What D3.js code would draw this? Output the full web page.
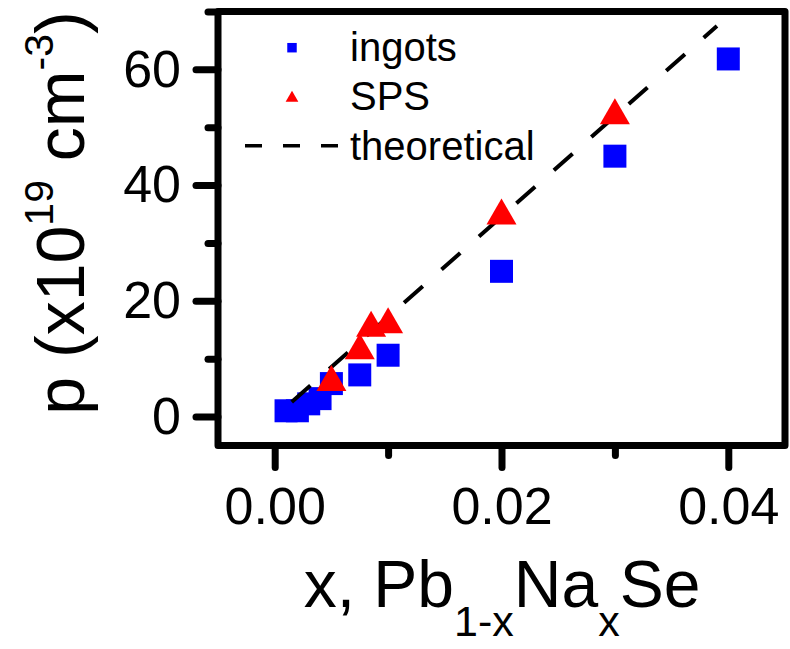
<!DOCTYPE html>
<html>
<head>
<meta charset="utf-8">
<script src="https://cdn.jsdelivr.net/npm/d3@7"></script>
<style>
  body { margin: 0; background: #fff; }
  text { font-family: "Liberation Sans", Arial, sans-serif; fill: #000; }
</style>
</head>
<body>
<div id="chart"></div>
<script>
// Data
const ingotX = [0.001, 0.002, 0.003, 0.004, 0.005, 0.0075, 0.01, 0.02, 0.03, 0.04];
const ingotP = [1.0, 1.0, 2.2, 3.1, 5.7, 7.2, 10.6, 25.1, 45.0, 61.8];
const spsX = [0.005, 0.0075, 0.0085, 0.01, 0.02, 0.03];
const spsP = [5.9, 11.4, 15.3, 15.9, 34.7, 52.0];
const theoX = [0.0015, 0.039];
const theoP = [2.5, 67.5];
const xMajor = [0, 0.02, 0.04];
const xMinor = [0.01, 0.03];
const yMajor = [0, 20, 40, 60];
const yMinor = [10, 30, 50, 70];
const legendLabels = ['ingots', 'SPS', 'theoretical'];

const width = 790, height = 649;
const plotLeft = 218, plotRight = 785, plotTop = 11.5, plotBottom = 445.5;

const svg = d3.select('#chart')
  .append('svg')
  .attr('width', width)
  .attr('height', height);

const x = d3.scaleLinear().domain([-0.005, 0.045]).range([plotLeft, plotRight]);
const y = d3.scaleLinear().domain([-5, 70]).range([plotBottom, plotTop]);

// points
const ingots = ingotX.map((v, i) => ({ x: v, p: ingotP[i] }));
const sps = spsX.map((v, i) => ({ x: v, p: spsP[i] }));
const theo = theoX.map((v, i) => ({ x: v, p: theoP[i] }));

svg.append('g')
  .selectAll('path')
  .data(ingots)
  .join('path')
  .attr('transform', d => `translate(${x(d.x)},${y(d.p)})`)
  .attr('d', d3.symbol(d3.symbolSquare, 529))
  .attr('fill', '#0000ff');

svg.append('path')
  .datum(theo)
  .attr('fill', 'none')
  .attr('stroke', '#000')
  .attr('stroke-width', 4)
  .attr('stroke-dasharray', '25,25')
  .attr('d', d3.line().x(d => x(d.x)).y(d => y(d.p)));

svg.append('g')
  .selectAll('path')
  .data(sps)
  .join('path')
  .attr('transform', d => `translate(${x(d.x)},${y(d.p)})`)
  .attr('d', d3.symbol(d3.symbolTriangle, 390))
  .attr('fill', '#ff0000');

// frame
svg.append('rect')
  .attr('x', plotLeft)
  .attr('y', plotTop)
  .attr('width', plotRight - plotLeft)
  .attr('height', plotBottom - plotTop)
  .attr('fill', 'none')
  .attr('stroke', '#000')
  .attr('stroke-width', 7)
  .attr('stroke-linejoin', 'round');

// axes
const styleAxis = g => {
  g.select('.domain').remove();
  g.selectAll('.tick line')
    .attr('stroke-width', 7)
    .attr('stroke-linecap', 'round');
};

svg.append('g')
  .attr('transform', `translate(0,${plotBottom})`)
  .call(d3.axisBottom(x).tickValues(xMinor).tickSize(10).tickFormat(''))
  .call(styleAxis);

svg.append('g')
  .attr('transform', `translate(0,${plotBottom})`)
  .call(d3.axisBottom(x).tickValues(xMajor).tickSize(22).tickPadding(20).tickFormat(d3.format('.2f')))
  .call(styleAxis)
  .selectAll('text')
  .style('font-size', '52px');

svg.append('g')
  .attr('transform', `translate(${plotLeft},0)`)
  .call(d3.axisLeft(y).tickValues(yMinor).tickSize(10).tickFormat(''))
  .call(styleAxis);

svg.append('g')
  .attr('transform', `translate(${plotLeft},0)`)
  .call(d3.axisLeft(y).tickValues(yMajor).tickSize(22).tickPadding(15))
  .call(styleAxis)
  .selectAll('text')
  .style('font-size', '52px');

// x title
const xt = svg.append('text')
  .attr('x', 502)
  .attr('y', 607)
  .attr('text-anchor', 'middle')
  .style('font-size', '66px');
xt.append('tspan').text('x, Pb');
xt.append('tspan').attr('dy', 29).style('font-size', '43px').text('1-x');
xt.append('tspan').attr('dy', -29).text('Na');
xt.append('tspan').attr('dy', 29).style('font-size', '43px').text('x');
xt.append('tspan').attr('dy', -29).text('Se');

// y title
const yt = svg.append('text')
  .attr('transform', 'translate(84,213) rotate(-90)')
  .attr('text-anchor', 'middle')
  .style('font-size', '68px');
yt.append('tspan').text('p (x10');
yt.append('tspan').attr('dy', -31).style('font-size', '41px').text('19');
yt.append('tspan').attr('dy', 31).text(' cm');
yt.append('tspan').attr('dy', -31).style('font-size', '41px').text('-3');
yt.append('tspan').attr('dy', 31).text(')');

// legend
const legend = svg.append('g').attr('transform', 'translate(292,0)');
const rowY = [61, 110, 160];

legend.append('path')
  .attr('transform', `translate(0,${rowY[0] - 13.3})`)
  .attr('d', d3.symbol(d3.symbolSquare, 90))
  .attr('fill', '#0000ff');

legend.append('path')
  .attr('transform', `translate(0,${rowY[1] - 12})`)
  .attr('d', d3.symbol(d3.symbolTriangle, 70))
  .attr('fill', '#ff0000');

legend.append('line')
  .attr('x1', -47)
  .attr('x2', 47)
  .attr('y1', rowY[2] - 14.3)
  .attr('y2', rowY[2] - 14.3)
  .attr('stroke', '#000')
  .attr('stroke-width', 3.5)
  .attr('stroke-dasharray', '17,21');

legend.selectAll('.legend-label')
  .data(legendLabels)
  .join('text')
  .attr('class', 'legend-label')
  .attr('x', 58)
  .attr('y', (d, i) => rowY[i])
  .style('font-size', '40px')
  .text(d => d);
</script>
</body>
</html>
